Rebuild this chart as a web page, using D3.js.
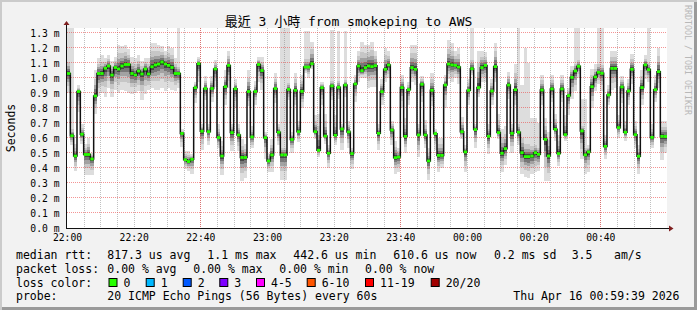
<!DOCTYPE html>
<html><head><meta charset="utf-8">
<script src="https://cdn.jsdelivr.net/npm/d3@7"></script>
<style>
html,body{margin:0;padding:0;background:#f2f2f2;}
svg{display:block;}
text{font-family:"DejaVu Sans Mono",monospace;fill:#000;}
</style></head><body>
<svg id="c" width="697" height="310"></svg>
<script>
// ---------------- DATA ----------------
const title = "最近 3 小時 from smokeping to AWS";
const yAxisTitle = "Seconds";
const watermark = "RRDTOOL / TOBI OETIKER";
const startTime = Date.UTC(2026, 3, 15, 22, 0, 0);
const endTime = Date.UTC(2026, 3, 16, 1, 0, 0);
const stepSeconds = 60;

// median rtt per minute (ms)
const median = [
1.03,0.615,0.48,0.91,0.625,0.49,0.49,0.46,0.88,1.03,
1.03,1.065,1.08,1.02,1.07,1.06,1.08,1.09,1.09,1.03,
1.02,1.047,1.027,1.06,1.027,1.075,1.087,1.093,1.107,1.093,
1.084,1.07,1.03,1.03,0.63,0.455,0.443,0.458,0.935,1.095,
0.645,0.93,0.642,0.93,1.06,0.603,0.48,0.942,1.084,0.636,
0.928,0.62,0.47,0.47,0.91,0.607,0.91,1.09,1.05,0.602,
0.447,0.487,0.93,0.638,0.487,0.487,0.924,0.59,0.918,0.642,
0.911,1.073,1.073,1.095,0.642,0.518,0.935,0.613,0.498,0.947,
0.618,0.938,0.66,0.953,0.64,0.496,0.96,1.08,1.049,1.069,
1.08,1.076,1.082,0.631,0.909,1.058,1.087,0.653,0.469,0.473,
0.936,0.611,0.922,1.069,1.058,0.62,0.958,0.62,0.447,0.918,
0.629,0.484,0.484,0.953,1.093,1.087,1.084,1.073,0.642,0.507,
0.918,1.062,0.656,0.936,1.069,1.084,0.611,0.913,1.076,0.636,
0.498,0.529,0.953,0.631,0.922,0.638,0.502,0.476,0.476,0.48,
0.502,0.491,0.92,0.591,0.48,0.927,0.658,0.496,0.927,0.622,
0.882,1.004,1.047,1.078,0.647,0.487,0.507,0.942,1.007,1.038,
1.031,0.544,0.887,1.064,1.064,0.669,0.94,0.638,0.913,1.058,
0.622,0.478,0.936,1.087,1.056,0.604,0.922,1.042,0.611,0.61
];
// lowest ping of the main smoke (ms)
const smokeLo = [
0.90,0.55,0.38,0.77,0.56,0.35,0.35,0.35,0.76,0.88,
0.90,0.875,0.93,0.875,0.92,0.90,0.92,0.91,0.90,0.89,
0.90,0.91,0.85,0.89,0.92,0.93,0.92,0.92,0.93,0.91,
0.93,0.92,0.91,0.93,0.54,0.39,0.38,0.36,0.83,0.975,
0.52,0.85,0.55,0.84,0.94,0.53,0.35,0.82,0.93,0.51,
0.80,0.51,0.31,0.33,0.81,0.53,0.82,0.975,0.92,0.46,
0.375,0.375,0.83,0.55,0.32,0.32,0.85,0.50,0.82,0.57,
0.80,1.03,1.00,1.06,0.59,0.47,0.82,0.56,0.40,0.85,
0.55,0.86,0.52,0.875,0.53,0.39,0.84,0.975,1.00,1.00,
0.93,0.94,0.94,0.52,0.82,0.975,1.00,0.55,0.36,0.37,
0.80,0.50,0.82,0.975,0.95,0.47,0.84,0.53,0.32,0.81,
0.52,0.375,0.40,0.80,0.99,0.97,1.00,0.96,0.59,0.37,
0.82,1.02,0.53,0.875,0.975,0.97,0.49,0.82,0.975,0.59,
0.375,0.42,0.86,0.50,0.82,0.55,0.36,0.34,0.33,0.36,
0.37,0.38,0.82,0.31,0.31,0.84,0.58,0.41,0.84,0.58,
0.75,0.86,0.91,1.00,0.46,0.36,0.375,0.80,0.91,0.96,
0.91,0.46,0.82,0.92,0.93,0.60,0.83,0.58,0.82,0.96,
0.53,0.36,0.82,0.99,0.975,0.53,0.84,0.93,0.45,0.50
];
// highest ping of the main smoke (ms)
const smokeHi = [
1.15,0.68,0.56,0.95,0.69,0.56,0.60,0.50,1.05,1.13,
1.15,1.13,1.15,1.11,1.14,1.22,1.21,1.22,1.19,1.14,
1.13,1.15,1.11,1.13,1.13,1.23,1.23,1.22,1.21,1.18,
1.21,1.20,1.13,1.10,0.66,0.51,0.51,0.49,0.97,1.14,
0.69,1.01,0.69,1.01,1.12,0.69,0.58,1.05,1.18,0.69,
0.99,0.69,0.59,0.56,1.05,0.68,0.98,1.14,1.14,0.64,
0.50,0.59,1.03,0.69,0.56,0.56,0.99,0.64,1.03,0.71,
1.02,1.15,1.15,1.24,0.75,0.76,0.97,0.76,0.55,1.00,
0.75,1.00,0.69,1.00,0.71,0.53,1.02,1.18,1.24,1.22,
1.22,1.24,1.18,0.69,0.99,1.20,1.18,0.71,0.58,0.53,
1.02,0.73,0.97,1.22,1.22,0.69,1.01,0.72,0.53,1.03,
0.66,0.60,0.60,1.02,1.25,1.23,1.18,1.20,0.74,0.55,
0.99,1.15,0.69,1.18,1.18,1.17,0.69,0.99,1.23,0.76,
0.66,0.68,1.04,0.69,1.09,0.72,0.65,0.60,0.60,0.58,
0.58,0.56,1.02,0.73,0.64,1.02,0.76,0.62,1.02,0.75,
0.93,1.08,1.12,1.14,0.70,0.56,0.55,1.06,1.09,1.12,
1.12,0.62,0.95,1.18,1.18,0.75,1.01,0.71,0.99,1.16,
0.71,0.55,1.05,1.15,1.12,0.69,1.02,1.20,0.71,0.71
];
// isolated slow pings (sample index, highest ping in ms)
const spikeIdx = [0,1,33,64,65,66,71,72,79,81,83,121,135,136,137,138,139,140,141,152,153,154,155,159,160,174];
const spikeTop = [1.33,1.33,1.33,1.33,1.33,1.33,1.31,1.31,1.32,1.31,1.31,1.33,1.33,0.95,1.2,1.1,0.73,0.73,0.7,1.33,1.33,0.86,0.86,1.33,1.33,1.33];

const yTickValues = [0,0.1,0.2,0.3,0.4,0.5,0.6,0.7,0.8,0.9,1.0,1.1,1.2,1.3];
const yTickLabels = ["0.0 m","0.1 m","0.2 m","0.3 m","0.4 m","0.5 m","0.6 m","0.7 m","0.8 m","0.9 m","1.0 m","1.1 m","1.2 m","1.3 m"];
const xTickMinutes = [0,20,40,60,80,100,120,140,160];
const xTickLabels = ["22:00","22:20","22:40","23:00","23:20","23:40","00:00","00:20","00:40"];
const majorGridMinutes = [40,100,160];
const yMax = 1.3333;

const legendRows = [
  ["median rtt:", "817.3 us avg", "1.1 ms max", "442.6 us min", "610.6 us now", "0.2 ms sd", "3.5", "am/s"],
  ["packet loss:", "0.00 % avg", "0.00 % max", "0.00 % min", "0.00 % now"],
  ["loss color:"],
  ["probe:", "20 ICMP Echo Pings (56 Bytes) every 60s", "Thu Apr 16 00:59:39 2026"]
];
const lossLabels = ["0","1","2","3","4-5","6-10","11-19","20/20"];

// ---------------- STYLE / LAYOUT ----------------
const lossColors = ["#26ff00","#00b8ff","#0059ff","#7e00ff","#ff00ff","#ff5500","#ff0000","#a10000"];
const rowX = [
  [16,107.3,207.3,293.3,393.3,494,571.7,614],
  [16,107.3,193.3,279.3,365],
  [16],
  [16,107.3,513.3]
];
const rowY = [258.6,272.6,286.6,300.4];
const lossBoxX = [108.5,145.7,182.7,219.3,256,306.7,365,430.7];
const plot = {l:67, r:667, t:28, b:228};
const smokeLevels = [
  {f:1.0, c:"#dddddd"},
  {f:0.66, c:"#c6c6c6"},
  {f:0.43, c:"#a2a2a2"},
  {f:0.27, c:"#777777"},
  {f:0.13, c:"#464646"}
];

// ---------------- DRAW ----------------
const svg = d3.select("#c");
const W = 697, H = 310;

// frame (3D border)
svg.append("rect").attr("x",0).attr("y",0).attr("width",W).attr("height",H).attr("fill","#9a9a9a");
svg.append("path").attr("d",`M0,0H${W}V2H2V${H}H0Z`).attr("fill","#cbcbcb");
svg.append("rect").attr("x",2).attr("y",2).attr("width",W-5).attr("height",H-5).attr("fill","#f2f2f2");

const x = d3.scaleUtc().domain([startTime, endTime]).range([plot.l, plot.r]);
const y = d3.scaleLinear().domain([0, yMax]).range([plot.b, plot.t]);
const tOf = i => startTime + i * stepSeconds * 1000;

// canvas
svg.append("rect").attr("x",plot.l).attr("y",plot.t).attr("width",plot.r-plot.l).attr("height",plot.b-plot.t).attr("fill","#fff");

const gPlot = svg.append("g");
const cell = i => ({x0: Math.round(x(tOf(i))), x1: Math.round(x(tOf(i+1)))});

// spikes (lightest smoke)
spikeIdx.forEach((idx,k) => {
  const c = cell(idx);
  gPlot.append("rect").attr("x",c.x0).attr("width",c.x1-c.x0)
    .attr("y",y(spikeTop[k])).attr("height",Math.max(0,y(smokeHi[idx])-y(spikeTop[k])))
    .attr("fill",smokeLevels[0].c).attr("shape-rendering","crispEdges");
});
// smoke bands
smokeLevels.forEach(lv => {
  gPlot.selectAll(null).data(median).enter().append("rect")
    .attr("x",(d,i)=>cell(i).x0).attr("width",(d,i)=>cell(i).x1-cell(i).x0)
    .attr("y",(d,i)=>y(d + (smokeHi[i]-d)*lv.f))
    .attr("height",(d,i)=>y(d - (d-smokeLo[i])*lv.f) - y(d + (smokeHi[i]-d)*lv.f))
    .attr("fill",lv.c).attr("shape-rendering","crispEdges");
});

// grid
const gGrid = svg.append("g");
const minorTimes = d3.utcMinute.every(5).range(startTime, endTime);
minorTimes.forEach(t => {
  const xx = Math.round(x(t)) + 0.5;
  if (xx < plot.l + 1) return;
  gGrid.append("line").attr("x1",xx).attr("x2",xx).attr("y1",plot.t).attr("y2",plot.b)
    .attr("stroke","rgba(140,140,140,0.55)").attr("stroke-width",1).attr("stroke-dasharray","1,1");
});
majorGridMinutes.forEach(m => {
  const xx = Math.round(x(startTime + m*60000)) + 0.5;
  gGrid.append("line").attr("x1",xx).attr("x2",xx).attr("y1",plot.t).attr("y2",plot.b)
    .attr("stroke","rgba(235,60,60,0.6)").attr("stroke-width",1).attr("stroke-dasharray","1,1");
});
yTickValues.forEach(v => {
  if (v === 0) return;
  const yy = Math.round(y(v)) - 0.5;
  gGrid.append("line").attr("x1",plot.l).attr("x2",plot.r).attr("y1",yy).attr("y2",yy)
    .attr("stroke","rgba(235,60,60,0.55)").attr("stroke-width",1).attr("stroke-dasharray","1,1");
});

// median step line
const pts = median.map((d,i)=>[tOf(i), d]);
pts.push([tOf(median.length), median[median.length-1]]);
const line = d3.line().x(d=>x(d[0])).y(d=>y(d[1])).curve(d3.curveStepAfter);
svg.append("path").attr("d",line(pts)).attr("fill","none").attr("stroke","#111").attr("stroke-width",1.5);

// median markers (loss colour)
svg.selectAll(null).data(median).enter().append("rect")
  .attr("x",(d,i)=>x(tOf(i))).attr("width",(d,i)=>x(tOf(i+1))-x(tOf(i)))
  .attr("y",d=>y(d)-1.4).attr("height",2.8).attr("fill",lossColors[0]);

// axes
const axisCol = "#111";
svg.append("line").attr("x1",plot.l-0.5).attr("x2",plot.l-0.5).attr("y1",plot.b+1).attr("y2",plot.t-4)
  .attr("stroke",axisCol).attr("stroke-width",1);
svg.append("line").attr("x1",plot.l-1).attr("x2",plot.r+4).attr("y1",plot.b+0.5).attr("y2",plot.b+0.5)
  .attr("stroke",axisCol).attr("stroke-width",1);
svg.append("path").attr("d",`M${plot.l-3.5},${plot.t-3}L${plot.l+2.5},${plot.t-3}L${plot.l-0.5},${plot.t-7}Z`).attr("fill","#7f1f1f");
svg.append("path").attr("d",`M${plot.r+2},${plot.b-2.5}L${plot.r+2},${plot.b+3.5}L${plot.r+6.5},${plot.b+0.5}Z`).attr("fill","#7f1f1f");

// x axis labels
const xAxis = d3.axisBottom(x)
  .tickValues(xTickMinutes.map(m => new Date(startTime + m*60000)))
  .tickFormat((d,i)=>xTickLabels[i]).tickSize(0).tickPadding(0);
const gx = svg.append("g").attr("transform",`translate(0,${plot.b})`).call(xAxis);
gx.select(".domain").remove();
gx.selectAll("text").attr("dy",null).attr("y",13.2).style("font-size","9.7px").style("font-family","DejaVu Sans Mono").attr("fill","#000");

// y axis labels
const yAxis = d3.axisLeft(y).tickValues(yTickValues).tickFormat((d,i)=>yTickLabels[i]).tickSize(0).tickPadding(0);
const gy = svg.append("g").attr("transform",`translate(${plot.l-7.5},0)`).call(yAxis);
gy.select(".domain").remove();
gy.selectAll("text").attr("dy","0.34em").style("font-size","9.7px").style("font-family","DejaVu Sans Mono").attr("fill","#000");

// title
svg.append("text").attr("x",348.5).attr("y",26.3).attr("text-anchor","middle")
  .style("font-size","13px").style("font-family","'DejaVu Sans Mono','Noto Sans CJK TC',monospace").text(title);

// y axis title
svg.append("text").attr("transform","translate(15,128) rotate(-90)").attr("text-anchor","middle")
  .style("font-size","11.5px").text(yAxisTitle);

// watermark
svg.append("text").attr("transform","translate(684.6,5) rotate(90)").attr("text-anchor","start")
  .style("font-size","8.3px").style("fill","#b8b8b8").text(watermark);

// legend
legendRows.forEach((row,r) => {
  row.forEach((s,k) => {
    svg.append("text").attr("x",rowX[r][k]).attr("y",rowY[r]).style("font-size","11.5px")
      .attr("xml:space","preserve").text(s);
  });
});
lossLabels.forEach((s,k) => {
  svg.append("rect").attr("x",lossBoxX[k]+0.5).attr("y",278.5).attr("width",8).attr("height",8)
    .attr("fill",lossColors[k]).attr("stroke","#000").attr("stroke-width",1);
  svg.append("text").attr("x",lossBoxX[k]+15).attr("y",rowY[2]).style("font-size","11.5px").text(s);
});
</script>
</body></html>
